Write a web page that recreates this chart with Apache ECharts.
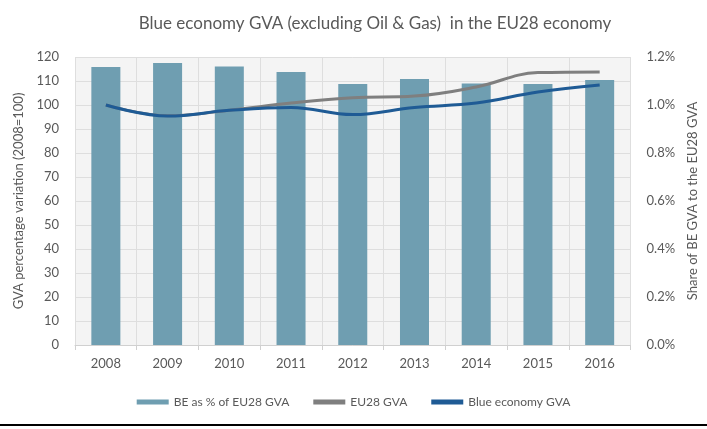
<!DOCTYPE html>
<html>
<head>
<meta charset="utf-8">
<script src="https://cdn.jsdelivr.net/npm/echarts@6/dist/echarts.min.js"></script>
<style>
  html, body { margin: 0; padding: 0; background: #fff; }
  #chart { width: 707px; height: 429px; }
</style>
</head>
<body>
<div id="chart"></div>
<script>
const years = ['2008', '2009', '2010', '2011', '2012', '2013', '2014', '2015', '2016']
// share of BE GVA in EU28 GVA, percent (right axis)
const beShare = [1.158, 1.175, 1.16, 1.137, 1.087, 1.108, 1.09, 1.087, 1.104]
// index 2008 = 100 (left axis)
const eu28Gva = [100, 95.5, 97.8, 100.8, 103, 103.7, 107.5, 113.5, 113.8]
const blueGva = [100, 95.4, 97.8, 99, 96, 99, 100.8, 105.4, 108.3]

const chart = echarts.init(document.getElementById('chart'))
const txt = '#595959'
const font = 'Lato'

chart.setOption({
  animation: false,
  title: {
    text: 'Blue economy GVA (excluding Oil & Gas)  in the EU28 economy',
    left: 370,
    textAlign: 'center',
    top: 10,
    textStyle: { fontFamily: font, fontSize: 17, fontWeight: 'normal', color: txt }
  },
  grid: { left: 75, right: 64, top: 57, bottom: 84, show: true, backgroundColor: '#f4f4f4', borderWidth: 0 },
  legend: {
    bottom: 16,
    left: 'center',
    itemGap: 24,
    itemWidth: 32,
    itemHeight: 5,
    textStyle: { fontFamily: font, fontSize: 12, color: txt },
    data: [
      { name: 'BE as % of EU28 GVA', icon: 'rect' },
      { name: 'EU28 GVA', icon: 'rect', itemStyle: { color: '#7f7f7f' } },
      { name: 'Blue economy GVA', icon: 'rect', itemStyle: { color: '#1f5b95' } }
    ]
  },
  xAxis: {
    type: 'category',
    data: years,
    axisTick: { show: true, length: 5, lineStyle: { color: '#d0d0d0' } },
    axisLine: { lineStyle: { color: '#d0d0d0' } },
    axisLabel: { fontFamily: font, fontSize: 13, color: txt, margin: 12 },
    splitLine: { show: true, lineStyle: { color: '#dedede' } }
  },
  yAxis: [
    {
      type: 'value', min: 0, max: 120, interval: 10,
      name: 'GVA percentage variation (2008=100)',
      nameLocation: 'middle', nameGap: 50, nameRotate: 90,
      nameTextStyle: { fontFamily: font, fontSize: 13, color: txt },
      axisLabel: { fontFamily: font, fontSize: 13, color: txt, margin: 16 },
      splitLine: { lineStyle: { color: '#dedede' } }
    },
    {
      type: 'value', min: 0, max: 1.2, interval: 0.2,
      name: 'Share of BE GVA to the EU28 GVA',
      nameLocation: 'middle', nameGap: 48, nameRotate: 90,
      nameTextStyle: { fontFamily: font, fontSize: 13, color: txt },
      axisLabel: { fontFamily: font, fontSize: 13, color: txt, margin: 16, formatter: v => v.toFixed(1) + '%' },
      splitLine: { show: false }
    }
  ],
  series: [
    {
      name: 'BE as % of EU28 GVA', type: 'bar', yAxisIndex: 1, data: beShare,
      barWidth: '47%', itemStyle: { color: '#6f9eb1' }
    },
    {
      name: 'EU28 GVA', type: 'line', data: eu28Gva, smooth: 0.4, symbol: 'none',
      lineStyle: { color: '#7f7f7f', width: 3 }, itemStyle: { color: '#7f7f7f' }
    },
    {
      name: 'Blue economy GVA', type: 'line', data: blueGva, smooth: 0.4, symbol: 'none',
      lineStyle: { color: '#1f5b95', width: 3 }, itemStyle: { color: '#1f5b95' }
    }
  ],
  graphic: [
    { type: 'rect', shape: { x: 0, y: 424, width: 707, height: 2 }, style: { fill: '#000' } }
  ]
})

window.addEventListener('resize', () => chart.resize())
</script>
</body>
</html>
